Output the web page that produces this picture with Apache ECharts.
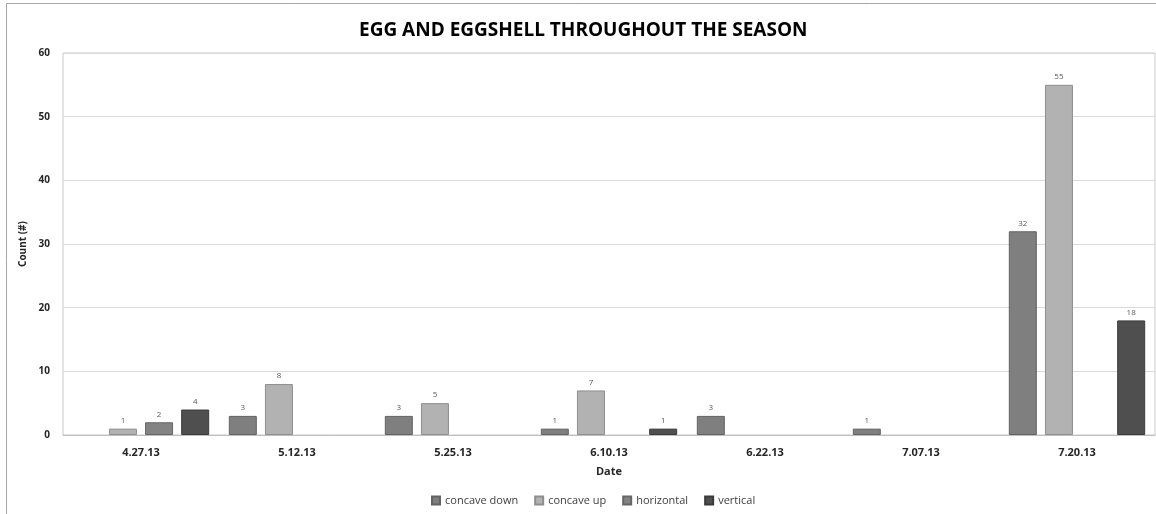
<!DOCTYPE html>
<html>
<head>
<meta charset="utf-8">
<title>Egg and Eggshell Throughout the Season</title>
<script src="https://cdn.jsdelivr.net/npm/echarts@6/dist/echarts.min.js"></script>
<style>
  html, body { margin: 0; padding: 0; background: #ffffff; }
  #chart { width: 1156px; height: 514px; }
</style>
</head>
<body>
<div id="chart"></div>
<script>
// Sampling dates
const dates = ['4.27.13', '5.12.13', '5.25.13', '6.10.13', '6.22.13', '7.07.13', '7.20.13'];

// Counts per orientation (null = none recorded)
const concaveDown = [null, 3, 3, 1, 3, 1, 32];
const concaveUp   = [1, 8, 5, 7, null, null, 55];
const horizontal  = [2, null, null, null, null, null, null];
const vertical    = [4, null, null, 1, null, null, 18];

const yTicks = { min: 0, max: 60, interval: 10 };

const seriesDefs = [
  { name: 'concave down', data: concaveDown, color: '#7f7f7f', border: '#636363' },
  { name: 'concave up',   data: concaveUp,   color: '#b2b2b2', border: '#8e8e8e' },
  { name: 'horizontal',   data: horizontal,  color: '#838383', border: '#666666' },
  { name: 'vertical',     data: vertical,    color: '#4f4f4f', border: '#3a3a3a' }
];

const FONT = "'Open Sans', 'Noto Sans', sans-serif";

const chart = echarts.init(document.getElementById('chart'), null, { renderer: 'canvas' });

chart.setOption({
  animation: false,
  backgroundColor: '#ffffff',
  textStyle: { fontFamily: FONT },
  graphic: [{
    type: 'rect',
    shape: { x: 6.5, y: 3.5, width: 1160, height: 520 },
    style: { fill: 'none', stroke: '#a6a6a6', lineWidth: 1 },
    silent: true
  }],
  title: {
    text: 'EGG AND EGGSHELL THROUGHOUT THE SEASON',
    left: 354,
    top: 16,
    textStyle: { fontFamily: FONT, fontWeight: 'bold', fontSize: 19, color: '#000000' }
  },
  legend: {
    bottom: 3,
    left: 426,
    itemWidth: 8,
    itemHeight: 8,
    itemGap: 16,
    icon: 'rect',
    textStyle: { fontFamily: FONT, fontSize: 11, color: '#404040' },
    data: seriesDefs.map(s => s.name)
  },
  grid: {
    left: 63, right: 1, top: 53, bottom: 79,
    show: true, borderColor: '#c8c8c8', borderWidth: 1
  },
  xAxis: {
    type: 'category',
    data: dates,
    name: 'Date',
    nameLocation: 'middle',
    nameGap: 31,
    nameTextStyle: { fontFamily: FONT, fontWeight: 'bold', fontSize: 11, color: '#262626' },
    axisLine: { lineStyle: { color: '#bfbfbf' } },
    axisTick: { show: false },
    axisLabel: { fontFamily: FONT, fontWeight: 'bold', fontSize: 11, color: '#262626', margin: 12 }
  },
  yAxis: {
    type: 'value',
    min: yTicks.min, max: yTicks.max, interval: yTicks.interval,
    name: 'Count (#)',
    nameLocation: 'middle',
    nameGap: 27,
    nameRotate: 90,
    nameTextStyle: { fontFamily: FONT, fontWeight: 'bold', fontSize: 10, color: '#262626' },
    axisLine: { show: false },
    axisTick: { show: false },
    axisLabel: { fontFamily: FONT, fontWeight: 'bold', fontSize: 10, color: '#262626', margin: 13 },
    splitLine: { lineStyle: { color: '#d9d9d9' } }
  },
  series: seriesDefs.map(s => ({
    name: s.name,
    type: 'bar',
    data: s.data,
    barWidth: 28,
    barGap: '29%',
    itemStyle: { color: s.color, borderColor: s.border, borderWidth: 1 },
    label: {
      show: true,
      position: 'top',
      distance: 4,
      fontFamily: FONT,
      fontSize: 8,
      color: '#595959'
    }
  }))
});
</script>
</body>
</html>
